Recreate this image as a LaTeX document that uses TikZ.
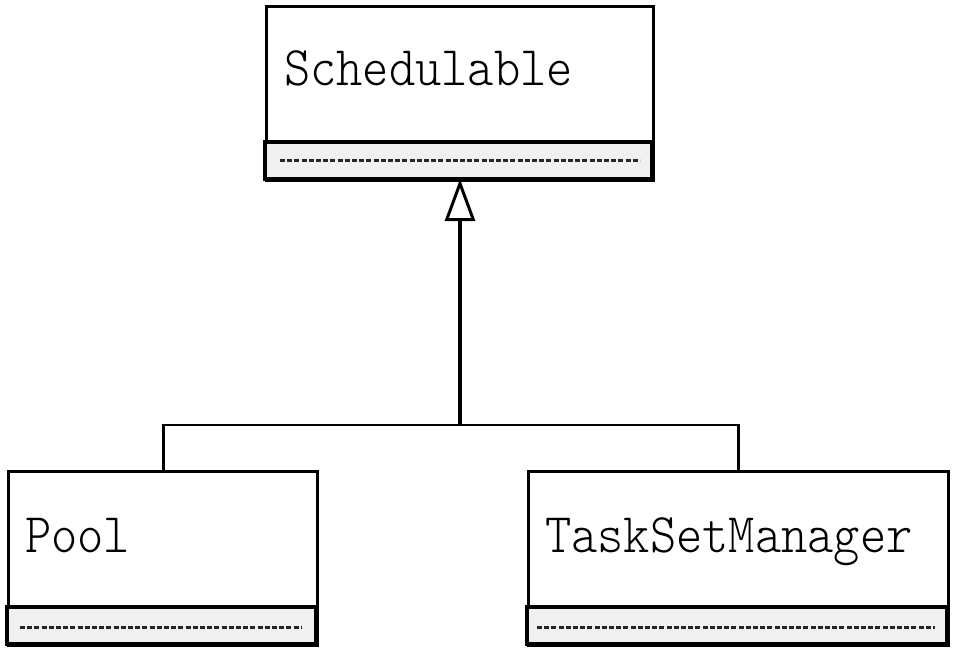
\documentclass[tikz,border=0pt]{standalone}
\usepackage{fontspec}
\setmonofont{Latin Modern Mono Light}
\usetikzlibrary{arrows.meta}
\begin{document}
\begin{tikzpicture}[x=1pt,y=-1pt,
  classbox/.style={draw=black, line width=3.4pt, fill=white, minimum width=#1, minimum height=174pt, anchor=north west, inner sep=0pt},
  compart/.style={draw=black, line width=3.4pt, fill=black!6},
  dashline/.style={draw=black!85, line width=3pt, dash pattern=on 5pt off 2.2pt},
  lbl/.style={anchor=base west, inner sep=0pt, font=\fontsize{50}{52}\selectfont\ttfamily, transform shape, yscale=1.12},
  conn/.style={draw=black, line width=2.8pt}
]
\useasboundingbox (0,0) rectangle (957,654);
% top class
\node[classbox=387pt] (s) at (265,5) {};
\draw[compart] (265,142) rectangle (652,179);
\draw[dashline] (280,160) -- (640,160);
\node[lbl] (slbl) at (284,85) {Schedulable};
% Pool
\node[classbox=309pt] (p) at (7,470) {};
\draw[compart] (7,607) rectangle (316,644);
\draw[dashline] (20,627) -- (302,627);
\node[lbl] (plbl) at (25,552) {Pool};
% TaskSetManager
\node[classbox=420pt] (t) at (527,470) {};
\draw[compart] (527,607) rectangle (947,644);
\draw[dashline] (537,627) -- (935,627);
\node[lbl] (tlbl) at (545,552) {TaskSetManager};
% connectors
\coordinate (j) at (460,425);
\draw[conn] (p.north) |- (j) -| (t.north);
\draw[conn, line width=3.4pt, -{Triangle[open, length=42pt, width=30pt, line width=3pt]}] (j) -- (460,179);
\end{tikzpicture}
\end{document}
